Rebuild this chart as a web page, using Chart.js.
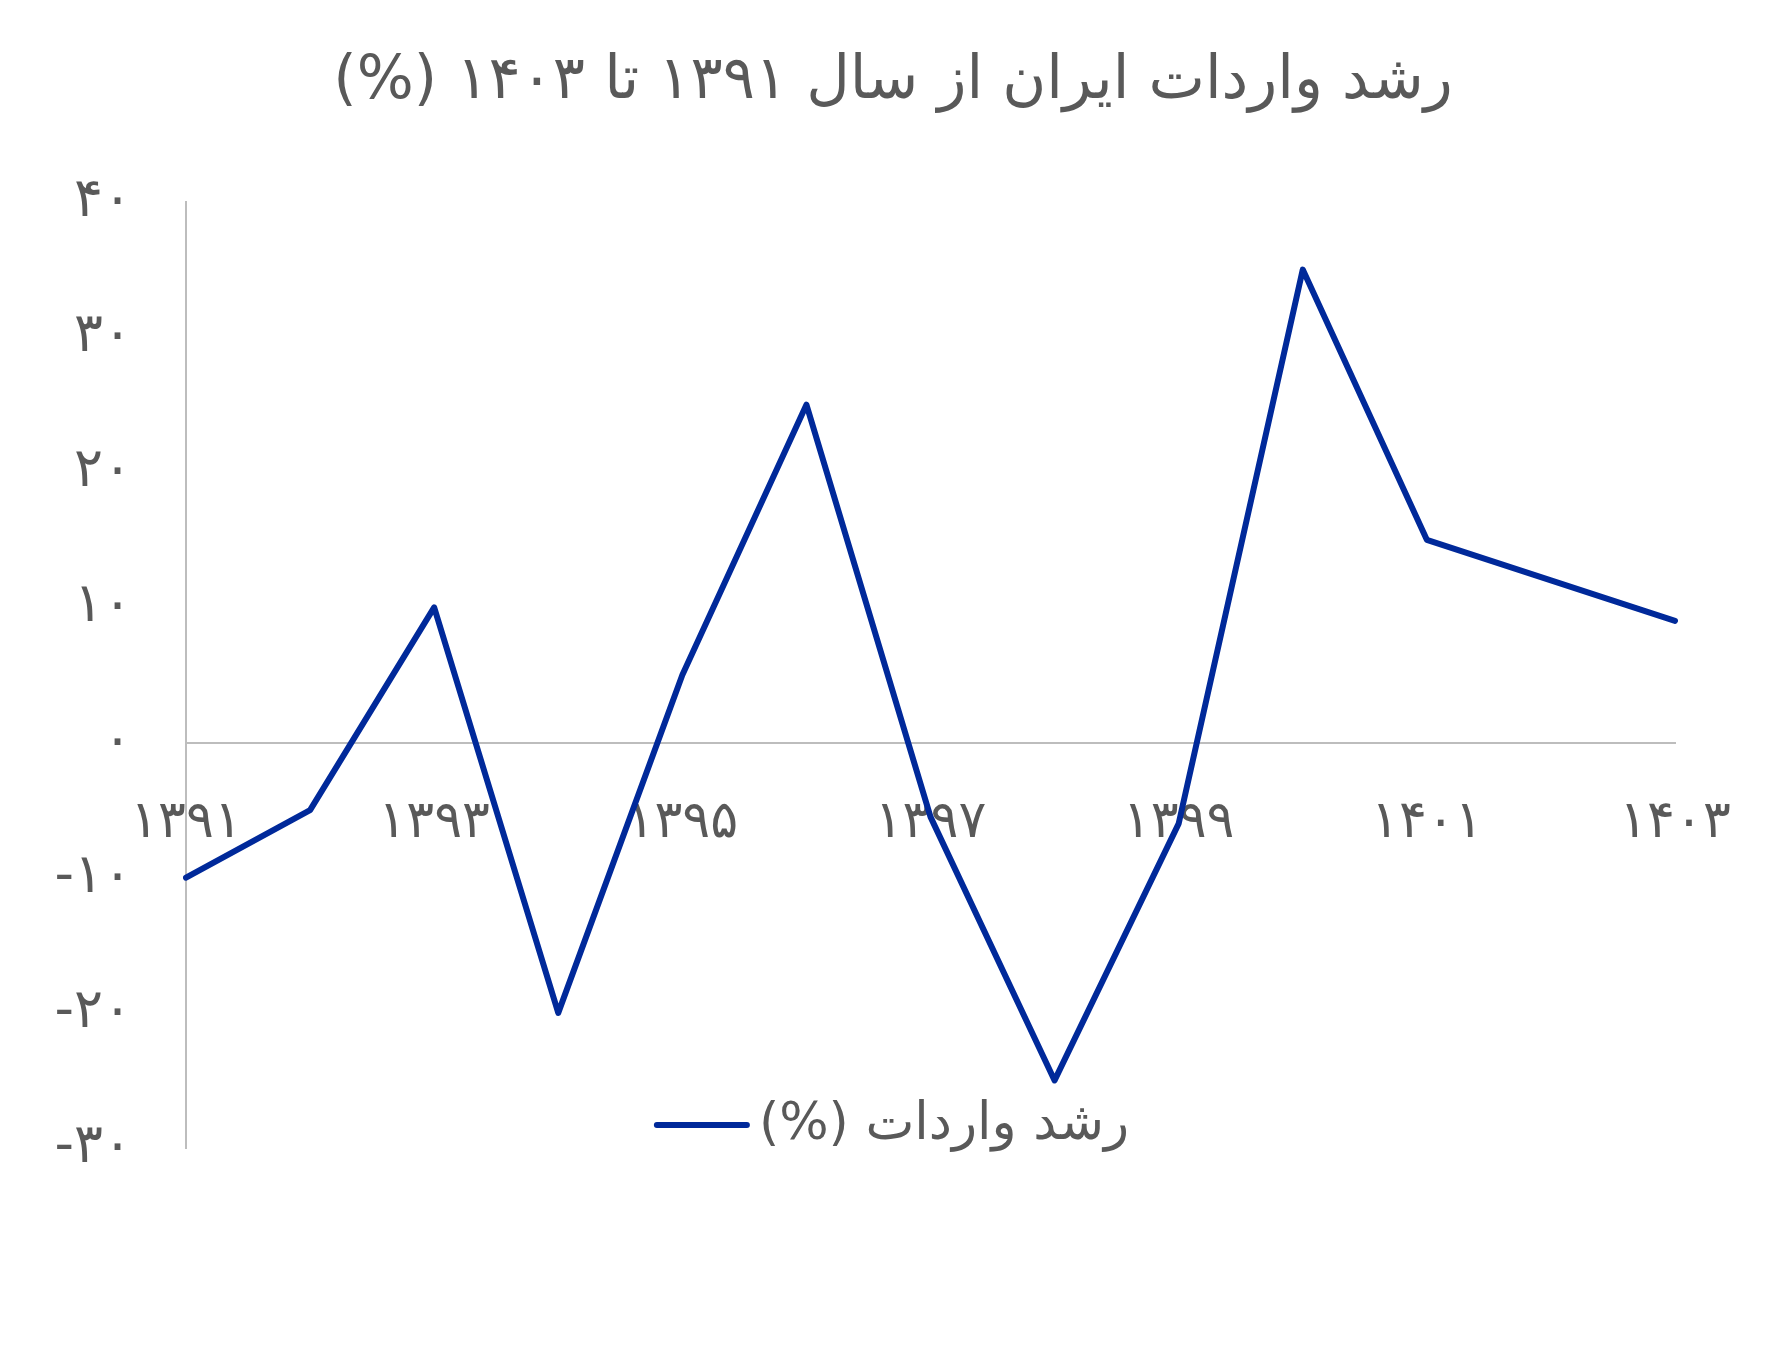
<!DOCTYPE html>
<html>
<head>
<meta charset="utf-8">
<script src="https://cdn.jsdelivr.net/npm/chart.js@4.4.1/dist/chart.umd.min.js"></script>
<style>
  html, body { margin: 0; padding: 0; background: #ffffff; }
  #wrap { width: 1786px; height: 1349px; position: relative; }
</style>
</head>
<body>
<div id="wrap"><canvas id="importChart"></canvas></div>
<script>
// years 1391..1403 (Persian digits)
const years = ['۱۳۹۱', '۱۳۹۲', '۱۳۹۳', '۱۳۹۴', '۱۳۹۵', '۱۳۹۶', '۱۳۹۷', '۱۳۹۸', '۱۳۹۹', '۱۴۰۰', '۱۴۰۱', '۱۴۰۲', '۱۴۰۳'];
// import growth, percent
const importGrowth = [-10, -5, 10, -20, 5, 25, -5.5, -25, -6, 35, 15, 12, 9];
const yTicks = [-30, -20, -10, 0, 10, 20, 30, 40];

const titleText = '\u200Fرشد واردات ایران از سال ۱۳۹۱ تا ۱۴۰۳ (%)\u200F';
const seriesLabel = '\u200Fرشد واردات (%)\u200F';

const FONT = '"DejaVu Sans", "Noto Sans", sans-serif';
const TEXT_COLOR = '#595959';
const AXIS_COLOR = '#bdbdbd';
const LINE_COLOR = '#00299a';

const faDigits = '۰۱۲۳۴۵۶۷۸۹';
function toFa(n) {
    const s = String(Math.abs(n)).replace(/\d/g, d => faDigits[d]);
    return n < 0 ? '-' + s : s;
}

// legend drawn inside the plot area, like the original
const innerLegend = {
    id: 'innerLegend',
    afterDraw(chart) {
        const ctx = chart.ctx;
        const ds = chart.data.datasets[0];
        ctx.save();
        ctx.font = '52px ' + FONT;
        const textW = ctx.measureText(ds.label).width;
        const swatch = 90, gap = 12;
        const total = swatch + gap + textW;
        const cx = 893, cy = 1125;
        const x0 = cx - total / 2;
        ctx.strokeStyle = ds.borderColor;
        ctx.lineWidth = 6;
        ctx.lineCap = 'round';
        ctx.beginPath();
        ctx.moveTo(x0, cy);
        ctx.lineTo(x0 + swatch, cy);
        ctx.stroke();
        ctx.fillStyle = TEXT_COLOR;
        ctx.textAlign = 'left';
        ctx.textBaseline = 'middle';
        ctx.fillText(ds.label, x0 + swatch + gap, cy);
        ctx.restore();
    }
};

const canvas = document.getElementById('importChart');
new Chart(canvas, {
    type: 'line',
    data: {
        labels: years,
        datasets: [{
            label: seriesLabel,
            data: importGrowth,
            borderColor: LINE_COLOR,
            borderWidth: 6,
            borderCapStyle: 'round',
            borderJoinStyle: 'round',
            pointRadius: 0,
            tension: 0,
            fill: false
        }]
    },
    options: {
        responsive: true,
        maintainAspectRatio: false,
        animation: false,
        layout: { padding: { left: 0, right: 0, top: 0, bottom: 201 } },
        plugins: {
            legend: { display: false },
            tooltip: { enabled: false },
            title: {
                display: true,
                text: titleText,
                color: TEXT_COLOR,
                font: { family: FONT, size: 60, weight: 'normal', lineHeight: 1.2 },
                padding: { top: 46, bottom: 84 }
            }
        },
        scales: {
            x: {
                type: 'category',
                position: { y: 0 },
                offset: false,
                grid: { display: false, drawTicks: false },
                border: { display: true, color: AXIS_COLOR, width: 2 },
                ticks: {
                    autoSkip: false,
                    maxRotation: 0,
                    padding: 50,
                    color: TEXT_COLOR,
                    font: { family: FONT, size: 52 },
                    callback: (v, i) => (i % 2 === 0 ? years[i] : '')
                },
                afterFit: s => { s.height = 0; }
            },
            y: {
                min: -30,
                max: 40,
                afterBuildTicks: s => { s.ticks = yTicks.map(v => ({ value: v })); },
                grid: { display: false, drawTicks: false },
                border: { display: true, color: AXIS_COLOR, width: 2 },
                ticks: {
                    padding: 54,
                    color: TEXT_COLOR,
                    font: { family: FONT, size: 54 },
                    callback: v => toFa(v)
                },
                afterFit: s => { s.width = 186; }
            },
            // empty right gutter so the title stays centred on the whole canvas
            yRight: {
                position: 'right',
                display: true,
                grid: { display: false, drawTicks: false },
                border: { display: false },
                ticks: { display: false },
                afterFit: s => { s.width = 111; }
            }
        }
    },
    plugins: [innerLegend]
});
</script>
</body>
</html>
